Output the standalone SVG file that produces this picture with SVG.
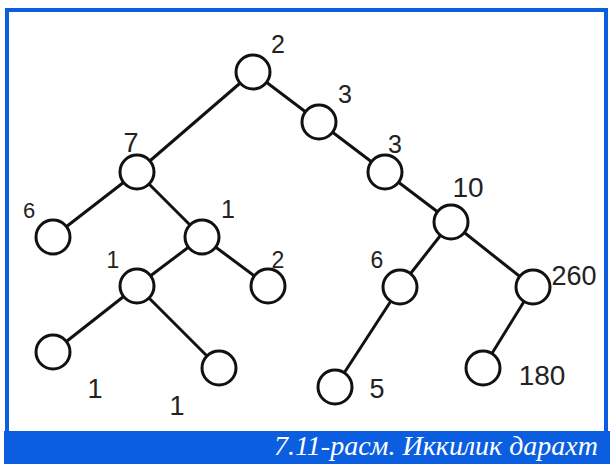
<svg xmlns="http://www.w3.org/2000/svg" width="612" height="467" viewBox="0 0 612 467">
<style>
.n{fill:#fff;stroke:#111;stroke-width:3}
.e{stroke:#111;stroke-width:3;fill:none}
.l{font-family:"Liberation Sans",Arial,sans-serif;fill:#222;text-anchor:middle}
.cap{font-family:"Liberation Serif","Times New Roman",serif;font-style:italic;fill:#fff;font-size:28px;text-anchor:end}
</style>
<rect x="0" y="0" width="612" height="467" fill="#fff"/>
<rect x="7" y="10" width="599" height="440" fill="#fff" stroke="#0b5ee0" stroke-width="4"/>
<rect x="4" y="431" width="606" height="33" fill="#0b5ee0"/>
<text class="cap" x="598" y="455">7.11-расм. Иккилик дарахт</text>
<g id="edges">
<line class="e" x1="253" y1="72" x2="137" y2="172"/>
<line class="e" x1="253" y1="72" x2="319" y2="122"/>
<line class="e" x1="319" y1="122" x2="385" y2="172"/>
<line class="e" x1="385" y1="172" x2="451" y2="222"/>
<line class="e" x1="451" y1="222" x2="400" y2="287"/>
<line class="e" x1="451" y1="222" x2="533" y2="287"/>
<line class="e" x1="400" y1="287" x2="335" y2="387"/>
<line class="e" x1="533" y1="287" x2="483" y2="368"/>
<line class="e" x1="137" y1="172" x2="53" y2="237"/>
<line class="e" x1="137" y1="172" x2="202" y2="237"/>
<line class="e" x1="202" y1="237" x2="268" y2="286"/>
<line class="e" x1="202" y1="237" x2="137" y2="286"/>
<line class="e" x1="137" y1="286" x2="53" y2="352"/>
<line class="e" x1="137" y1="286" x2="219" y2="368"/>
</g>
<g id="n-root"><circle class="n" cx="253" cy="72" r="17"/><text class="l" x="278" y="53" font-size="25">2</text></g>
<g id="n-a"><circle class="n" cx="319" cy="122" r="17"/><text class="l" x="345" y="103" font-size="25">3</text></g>
<g id="n-b"><circle class="n" cx="385" cy="172" r="17"/><text class="l" x="395" y="153" font-size="25">3</text></g>
<g id="n-c"><circle class="n" cx="451" cy="222" r="17"/><text class="l" x="468" y="197" font-size="28">10</text></g>
<g id="n-d"><circle class="n" cx="400" cy="287" r="17"/><text class="l" x="377" y="268" font-size="23">6</text></g>
<g id="n-e"><circle class="n" cx="533" cy="287" r="17"/><text class="l" x="574" y="285" font-size="27">260</text></g>
<g id="n-f"><circle class="n" cx="335" cy="387" r="17"/><text class="l" x="377" y="398" font-size="27">5</text></g>
<g id="n-g"><circle class="n" cx="483" cy="368" r="17"/><text class="l" x="542" y="385" font-size="28">180</text></g>
<g id="n-7"><circle class="n" cx="137" cy="172" r="17"/><text class="l" x="131" y="152" font-size="27">7</text></g>
<g id="n-6"><circle class="n" cx="53" cy="237" r="17"/><text class="l" x="29" y="218" font-size="22">6</text></g>
<g id="n-1a"><circle class="n" cx="202" cy="237" r="17"/><text class="l" x="228" y="218" font-size="25">1</text></g>
<g id="n-2"><circle class="n" cx="268" cy="286" r="17"/><text class="l" x="278" y="268" font-size="23">2</text></g>
<g id="n-1b"><circle class="n" cx="137" cy="286" r="17"/><text class="l" x="113" y="268" font-size="23">1</text></g>
<g id="n-1c"><circle class="n" cx="53" cy="352" r="17"/><text class="l" x="95" y="398" font-size="27">1</text></g>
<g id="n-1d"><circle class="n" cx="219" cy="368" r="17"/><text class="l" x="177" y="415" font-size="27">1</text></g>
</svg>
